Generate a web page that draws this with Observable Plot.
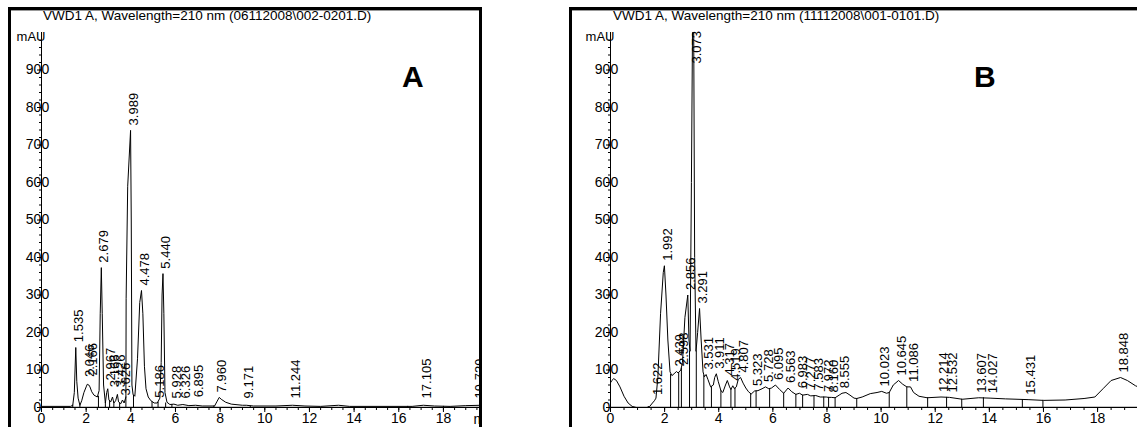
<!DOCTYPE html>
<html><head><meta charset="utf-8">
<script src="https://cdn.jsdelivr.net/npm/d3@7"></script>
<script src="https://cdn.jsdelivr.net/npm/@observablehq/plot@0.6"></script>
<style>
html,body{margin:0;padding:0;background:#fff;}
#wrap{position:relative;width:1137px;height:427px;overflow:hidden;background:#fff;font-family:"Liberation Sans",Arial,sans-serif;}
.frame{position:absolute;box-sizing:border-box;border:3px solid #000;border-bottom:none;box-shadow:inset 0 1px 0 #999;}
.title{position:absolute;top:8px;font-size:13.5px;line-height:16px;white-space:nowrap;color:#000;}
.big{position:absolute;font-weight:bold;font-size:30px;line-height:30px;color:#000;}
.panel{position:absolute;top:0;}
</style></head>
<body><div id="wrap"></div>
<script>
// ---------- data ----------
const titleA = "VWD1 A, Wavelength=210 nm (06112008\\002-0201.D)";
const titleB = "VWD1 A, Wavelength=210 nm (11112008\\001-0101.D)";
const xTicks = [0, 2, 4, 6, 8, 10, 12, 14, 16, 18];
const xMinor = d3.range(0, 20, 0.5);
const yTicks = [0, 100, 200, 300, 400, 500, 600, 700, 800, 900];
const yMinor = d3.range(0, 1000, 20);

// Panel A chromatogram (min, mAU)
const timeA = [0,1.30,1.40,1.47,1.535,1.58,1.64,1.72,1.80,1.90,2.00,2.05,2.12,2.17,2.25,2.35,2.50,2.58,2.63,2.679,2.72,2.78,2.86,2.92,2.967,3.02,3.10,3.18,3.24,3.32,3.40,3.45,3.55,3.626,3.70,3.78,3.79,3.86,3.989,4.02,4.05,4.10,4.18,4.30,4.40,4.478,4.54,4.61,4.68,4.78,4.90,5.05,5.186,5.30,5.36,5.40,5.44,5.48,5.53,5.62,5.75,5.93,6.10,6.33,6.60,6.90,7.20,7.75,7.85,7.96,8.05,8.25,8.50,9.00,9.17,9.50,10.50,11.24,11.80,12.50,13.30,13.80,16.60,17.10,17.60,18.30,19.00,19.73,19.90];
const mauA  = [3,3,6,40,160,70,25,6,18,40,55,62,60,55,42,33,28,45,250,373,250,60,12,40,50,20,15,28,12,18,35,15,10,20,12,28,290,590,739,500,60,35,30,130,280,312,250,110,50,28,18,12,12,25,120,300,357,250,40,14,8,9,6,8,5,6,4,4,15,27,22,14,9,6,6,4,4,6,4,3,6,3,3,6,4,3,5,6,6];
const peakA  = ["1.535","2.046","2.166","2.679","2.967","3.166","3.426","3.626","3.989","4.478","5.186","5.440","5.928","6.326","6.895","7.960","9.171","11.244","17.105","19.729"];
const peakTA = [1.535,2.046,2.166,2.679,2.967,3.166,3.426,3.626,3.989,4.478,5.186,5.440,5.928,6.326,6.895,7.960,9.171,11.244,17.105,19.50];
const peakVA = [161,68,72,373,59,41,41,19,739,312,13,357,11,11,14,27,11,11,11,11];
const dropTA = [1.40,1.72,2.55,2.86,3.05,3.24,3.50,3.78,4.12,4.95,5.22,5.56,5.84,7.72,9.35,16.40,18.00];
const dropVA = [6,6,30,12,18,12,12,28,33,15,14,12,8,4,4,3,3];

// Panel B chromatogram (min, mAU)
const timeB = [0,0.05,0.12,0.22,0.35,0.5,0.65,0.8,0.95,1.35,1.45,1.55,1.622,1.68,1.75,1.85,1.95,1.992,2.05,2.12,2.20,2.27,2.35,2.439,2.50,2.598,2.66,2.75,2.856,2.90,2.94,2.99,3.03,3.073,3.11,3.16,3.22,3.291,3.35,3.42,3.47,3.531,3.60,3.70,3.80,3.85,3.911,3.98,4.08,4.15,4.25,4.317,4.40,4.45,4.519,4.58,4.65,4.72,4.807,4.90,5.00,5.10,5.20,5.323,5.45,5.60,5.728,5.85,5.95,6.095,6.25,6.40,6.563,6.70,6.85,6.983,7.10,7.277,7.40,7.583,7.75,7.972,8.05,8.160,8.30,8.45,8.555,8.70,8.85,9.00,9.10,9.30,9.60,9.85,10.023,10.20,10.30,10.45,10.645,10.80,10.95,11.086,11.20,11.40,11.70,12.214,12.532,13.00,13.607,14.027,14.60,15.431,16.00,16.80,17.50,17.90,18.20,18.50,18.848,19.10,19.40,19.50];
const mauB  = [66,72,77,72,55,30,12,3,0,0,3,12,18,25,80,250,360,378,300,180,95,85,90,96,92,100,120,240,300,180,150,600,1000,1040,400,150,200,264,180,95,82,88,75,55,60,80,90,70,45,40,60,72,55,48,58,50,55,75,80,65,52,42,36,44,45,50,55,50,52,60,48,38,52,42,35,38,33,35,31,32,28,28,27,27,26,33,38,40,33,25,24,28,37,40,43,38,40,60,72,62,55,55,40,30,26,28,27,22,26,25,23,21,19,20,24,28,50,72,80,72,58,55];
const peakB  = ["1.622","1.992","2.439","2.598","2.856","3.073","3.291","3.531","3.911","4.317","4.519","4.807","5.323","5.728","6.095","6.563","6.983","7.277","7.583","7.972","8.160","8.555","10.023","10.645","11.086","12.214","12.532","13.607","14.027","15.431","18.848"];
const peakTB = [1.622,1.992,2.439,2.598,2.856,3.073,3.291,3.531,3.911,4.317,4.519,4.807,5.323,5.728,6.095,6.563,6.983,7.277,7.583,7.972,8.160,8.555,10.023,10.645,11.086,12.214,12.532,13.607,14.027,15.431,18.848];
const peakVB = [20,378,96,100,300,904,264,88,90,72,58,80,44,55,60,52,38,35,32,28,27,38,43,72,55,28,27,26,25,21,80];
const dropTB = [1.40,2.22,2.52,2.62,2.92,3.17,3.45,3.73,4.08,4.45,4.60,5.18,5.38,5.88,6.40,6.85,7.10,7.52,7.88,8.06,8.30,9.10,10.30,10.95,11.72,12.42,12.98,13.78,15.22,15.98];
const dropVB = [2,88,92,105,150,150,85,55,45,48,52,37,44,50,38,35,33,31,28,27,26,24,40,55,26,27,22,26,21,19];

// ---------- drawing ----------
const FONT = "Liberation Sans, Arial, sans-serif";
function panel({left, width, xMax, time, mau, peaks, peakT, peakV, dropT, dropV, showMin}) {
  const pts = time.map((t, i) => ({t, v: mau[i]}));
  const labs = peaks.map((s, i) => ({s, t: peakT[i], v: peakV[i]}));
  const drops = dropT.map((t, i) => ({t, v: dropV[i]}));
  const marks = [
    Plot.ruleY([1.5], {stroke: "#999", strokeWidth: 1}),
    Plot.ruleX(drops, {x: "t", y1: 0, y2: "v", stroke: "#000", strokeWidth: 1}),
    Plot.line(pts, {x: "t", y: "v", stroke: "#000", strokeWidth: 1, clip: true}),
    Plot.text(labs, {x: "t", y: "v", text: "s", rotate: -90, textAnchor: "start", dx: 3, dy: -5, fontSize: 13, fill: "#000"}),
    Plot.axisX({ticks: xMinor, tickSize: 3, tickFormat: () => "", anchor: "bottom", label: null}),
    Plot.axisX({ticks: xTicks, tickSize: 5, tickPadding: 1, fontSize: 14, anchor: "bottom", tickFormat: d => d, label: null}),
    Plot.axisY({ticks: yMinor, tickSize: 2, tickFormat: () => "", anchor: "left", label: null}),
    Plot.axisY({ticks: yTicks, tickSize: 4, tickFormat: () => "", anchor: "left", label: null}),
    Plot.text(yTicks, {y: d => d, text: d => String(d), frameAnchor: "left", dx: -4, textAnchor: "middle", fontSize: 14, fill: "#000"}),
    Plot.ruleY([0], {stroke: "#000"}),
    Plot.ruleX([0], {stroke: "#000"}),
    Plot.text(["mAU"], {frameAnchor: "top-left", dx: 4, dy: -1, textAnchor: "end", lineAnchor: "top", fontSize: 13, fill: "#000"})
  ];
  if (showMin) marks.push(Plot.text(["min"], {frameAnchor: "bottom-right", dy: 12, dx: -9, textAnchor: "start", lineAnchor: "middle", fontSize: 14, fill: "#000"}));
  const svg = Plot.plot({
    width, height: 427,
    marginLeft: 41, marginRight: 0, marginTop: 32, marginBottom: 20,
    style: {background: "transparent", fontFamily: FONT, color: "#000", overflow: "hidden"},
    x: {domain: [0, xMax], axis: null, label: null},
    y: {domain: [0, 1000], axis: null, label: null},
    marks
  });
  svg.classList.add("panel");
  svg.style.left = left + "px";
  return svg;
}

const wrap = document.getElementById("wrap");
wrap.appendChild(panel({left: 0, width: 482, xMax: 19.75, time: timeA, mau: mauA, peaks: peakA, peakT: peakTA, peakV: peakVA, dropT: dropTA, dropV: dropVA, showMin: true}));
wrap.appendChild(panel({left: 569, width: 568, xMax: 19.475, time: timeB, mau: mauB, peaks: peakB, peakT: peakTB, peakV: peakVB, dropT: dropTB, dropV: dropVB, showMin: false}));

function addDiv(cls, css, text) {
  const d = document.createElement("div");
  d.className = cls; Object.assign(d.style, css);
  if (text) d.textContent = text;
  wrap.appendChild(d);
}
addDiv("frame", {left: "8px", top: "7px", width: "474px", height: "440px"});
addDiv("frame", {left: "569px", top: "7px", width: "600px", height: "440px"});
addDiv("title", {left: "43px"}, titleA);
addDiv("title", {left: "613px"}, titleB);
addDiv("big", {left: "402px", top: "62px"}, "A");
addDiv("big", {left: "974px", top: "62px"}, "B");
</script></body></html>
